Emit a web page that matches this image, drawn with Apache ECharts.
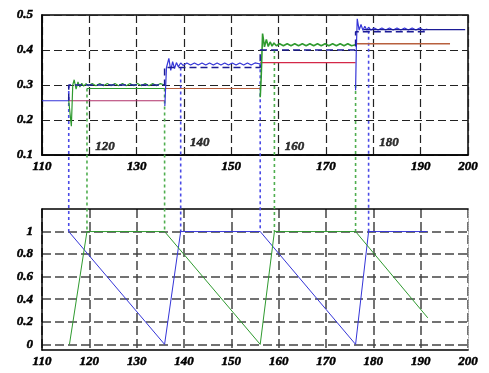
<!DOCTYPE html>
<html><head><meta charset="utf-8">
<script src="https://cdn.jsdelivr.net/npm/echarts@6/dist/echarts.min.js"></script>
<style>html,body{margin:0;padding:0;background:#fff}#c{width:489px;height:373px}</style>
</head><body><div id="c"></div>
<script>
// ---------- data ----------
const topXLabels = [110, 130, 150, 170, 190, 200];
const topInnerLabels = [120, 140, 160, 180];
const bottomYLabels = [0, 0.2, 0.4, 0.6, 0.8, 1];

// top chart
const blueLead = [[110, 0.255], [115.65, 0.255]];
const navyRef = [[115.65, 0.255], [115.65, 0.30], [135.9, 0.30], [135.9, 0.35], [156.1, 0.35], [156.1, 0.40], [176.25, 0.40], [176.25, 0.452], [191.4, 0.452]];
const navyTail = [[178, 0.458], [199.4, 0.458]];
const greenA = [[115.65, 0.255], [116.0, 0.26], [116.2, 0.182], [116.5, 0.30], [116.8, 0.315], [117.2, 0.288], [117.6, 0.309], [118.0, 0.294], [118.4, 0.305], [118.8, 0.297], [119.3, 0.304], [119.8, 0.298], [120.6, 0.304], [121.4, 0.298], [122.2, 0.304], [123.0, 0.298], [123.8, 0.304], [124.6, 0.298], [125.4, 0.304], [126.2, 0.298], [127.0, 0.304], [127.8, 0.298], [128.6, 0.304], [129.4, 0.298], [130.2, 0.304], [131.0, 0.298], [131.8, 0.304], [132.6, 0.298], [133.4, 0.304], [134.2, 0.298], [135.0, 0.304], [135.9, 0.300]];
const greenFlat = [[119.5, 0.29], [135.9, 0.29]];
const blueB = [[135.95, 0.24], [136.3, 0.35], [136.8, 0.376], [137.2, 0.342], [137.6, 0.367], [138.0, 0.347], [138.4, 0.364], [138.8, 0.352], [139.3, 0.363], [139.8, 0.356], [140.6, 0.363], [141.4, 0.357], [142.2, 0.363], [143.0, 0.357], [143.8, 0.363], [144.6, 0.357], [145.4, 0.363], [146.2, 0.357], [147.0, 0.363], [147.8, 0.357], [148.6, 0.363], [149.4, 0.357], [150.2, 0.363], [151.0, 0.357], [151.8, 0.363], [152.6, 0.357], [153.4, 0.363], [154.2, 0.357], [155.0, 0.363], [156.1, 0.360]];
const greenC = [[156.1, 0.265], [156.3, 0.32], [156.6, 0.447], [157.0, 0.409], [157.4, 0.430], [157.8, 0.410], [158.2, 0.423], [158.6, 0.411], [159.0, 0.420], [159.5, 0.412], [160.2, 0.418], [161.0, 0.412], [161.8, 0.418], [162.6, 0.412], [163.4, 0.418], [164.2, 0.412], [165.0, 0.418], [165.8, 0.412], [166.6, 0.418], [167.4, 0.412], [168.2, 0.418], [169.0, 0.412], [169.8, 0.418], [170.6, 0.412], [171.4, 0.418], [172.2, 0.412], [173.0, 0.418], [173.8, 0.412], [174.6, 0.418], [175.4, 0.412], [176.25, 0.415]];
const blueD = [[176.25, 0.285], [176.4, 0.40], [176.6, 0.489], [177.0, 0.457], [177.4, 0.473], [177.8, 0.456], [178.2, 0.468], [178.6, 0.457], [179.0, 0.465], [179.5, 0.457], [180.2, 0.463], [181.0, 0.457], [181.8, 0.463], [182.6, 0.457], [183.4, 0.463], [184.2, 0.457], [185.0, 0.463], [185.8, 0.457], [186.6, 0.463], [187.4, 0.457], [188.2, 0.463], [189.0, 0.457], [189.8, 0.463], [190.6, 0.457], [191.4, 0.460]];
const magentaA = [[115.65, 0.255], [135.9, 0.255]];
const brownB = [[135.9, 0.29], [156.1, 0.29]];
const crimsonC = [[156.1, 0.364], [176.25, 0.364]];
const brownD = [[176.25, 0.418], [196.2, 0.418]];

// connectors: [x, value in top chart, value in bottom chart]
const blueLinks = [[115.65, 0.30, 1], [139.3, 0.35, 1], [156.1, 0.362, 1], [179.0, 0.455, 1]];
const greenLinks = [[119.5, 0.29, 1], [135.9, 0.29, 1], [159.1, 0.40, 1], [176.25, 0.30, 1]];

// bottom chart
const blueBottom = [[115.65, 1], [135.9, 0], [139.3, 1], [156.1, 1], [176.25, 0], [179.0, 1], [191.4, 1]];
const greenBottom = [[115.8, 0], [119.5, 1], [135.9, 1], [156.1, 0], [159.1, 1], [176.25, 1], [191.5, 0.235]];

// ---------- chart ----------
const chart = echarts.init(document.getElementById('c'), null, {renderer: 'canvas'});
const font = {fontFamily: 'Liberation Serif', fontStyle: 'italic', fontWeight: 'bold', fontSize: 13, color: '#000',
  textBorderColor: '#000', textBorderWidth: 0.5};
const dashGrid = {show: true, lineStyle: {color: '#222', type: [8, 4], width: 1.2}};
const dashGrid2 = {show: true, lineStyle: {color: '#444', type: [9, 4], width: 1.5}};
const BLUE = '#3535d8', NAVY = '#1c1c96', GREEN = '#2f9a2f';

function line(data, color, opts) {
  return Object.assign({type: 'line', xAxisIndex: 0, yAxisIndex: 0, data: data, symbol: 'none', silent: true,
    lineStyle: {color: color, width: 1.2}, animation: false}, opts || {});
}
function links(data, color) {
  return {
    type: 'custom', xAxisIndex: 1, yAxisIndex: 1, data: data, silent: true, animation: false, z: 1,
    encode: {x: 0, y: 2},
    renderItem: function (params, api) {
      const x = api.value(0), tv = api.value(1), bv = api.value(2);
      const p1 = chart.convertToPixel({gridIndex: 0}, [x, tv]);
      const p2 = api.coord([x, bv]);
      if (!p1) return null;
      return {type: 'line', shape: {x1: p2[0], y1: p1[1], x2: p2[0], y2: p2[1]},
        style: {stroke: color, lineWidth: 1.6, lineDash: [3, 3]}};
    }
  };
}
const axisLineBlack = {show: true, onZero: false, lineStyle: {color: '#000', width: 1.5}};

chart.setOption({
  backgroundColor: '#fff',
  animation: false,
  grid: [
    {left: 42, right: 21, top: 15, height: 140, show: true, borderColor: '#000', borderWidth: 1.5, containLabel: false},
    {left: 42, right: 21, top: 209, height: 141, show: false, containLabel: false}
  ],
  xAxis: [
    {type: 'value', gridIndex: 0, min: 110, max: 200, interval: 10,
      axisLine: axisLineBlack, axisTick: {show: false},
      axisLabel: Object.assign({margin: 5, formatter: v => topXLabels.includes(v) ? String(v) : ''}, font),
      splitLine: dashGrid},
    {type: 'value', gridIndex: 1, position: 'bottom', min: 110, max: 200, interval: 10,
      axisLine: axisLineBlack, axisTick: {show: false},
      axisLabel: Object.assign({margin: 5}, font), splitLine: dashGrid2},
    {type: 'value', gridIndex: 1, position: 'top', min: 110, max: 200,
      axisLine: axisLineBlack, axisTick: {show: false},
      axisLabel: {show: false}, splitLine: {show: false}}
  ],
  yAxis: [
    {type: 'value', gridIndex: 0, min: 0.1, max: 0.5, interval: 0.1,
      axisLine: axisLineBlack, axisTick: {show: false},
      axisLabel: Object.assign({margin: 9, formatter: v => v.toFixed(1)}, font), splitLine: dashGrid},
    {type: 'value', gridIndex: 1, position: 'left', min: -0.05, max: 1.2,
      axisLine: axisLineBlack,
      axisTick: {show: false, customValues: bottomYLabels},
      axisLabel: Object.assign({margin: 9, customValues: bottomYLabels, formatter: v => String(+v.toFixed(1))}, font),
      splitLine: dashGrid2},
    {type: 'value', gridIndex: 1, position: 'right', min: -0.05, max: 1.2,
      axisLine: {show: true, onZero: false, lineStyle: {color: '#aaa', width: 1, type: [1, 1]}}, axisTick: {show: false},
      axisLabel: {show: false}, splitLine: {show: false}}
  ],
  series: [
    links(blueLinks, '#4a4ae6'),
    links(greenLinks, '#4fae4f'),
    line(magentaA, '#b0306a'),
    line(brownB, '#b8603e'),
    line(crimsonC, '#d42848'),
    line(brownD, '#b8603e', {lineStyle: {color: '#b8603e', width: 1.6}}),
    line(greenFlat, GREEN),
    line(blueLead, BLUE),
    line(greenA, GREEN),
    line(greenC, GREEN, {lineStyle: {color: GREEN, width: 1.6}}),
    line(blueB, BLUE),
    line(blueD, BLUE),
    line(navyTail, NAVY),
    line(navyRef, NAVY, {lineStyle: {color: NAVY, width: 1.5, type: [7, 4]}}),
    {type: 'scatter', xAxisIndex: 0, yAxisIndex: 0, symbolSize: 0, silent: true, animation: false,
      data: topInnerLabels.map((x, i) => ({value: [x, 0.1],
        label: {show: true, position: 'right', offset: [1, i % 2 ? -12 : -8], formatter: String(x)}})),
      label: Object.assign({show: true}, font)},
    line(blueBottom, BLUE, {xAxisIndex: 1, yAxisIndex: 1, lineStyle: {color: BLUE, width: 1}}),
    line(greenBottom, GREEN, {xAxisIndex: 1, yAxisIndex: 1, lineStyle: {color: GREEN, width: 1}})
  ]
});
</script></body></html>
